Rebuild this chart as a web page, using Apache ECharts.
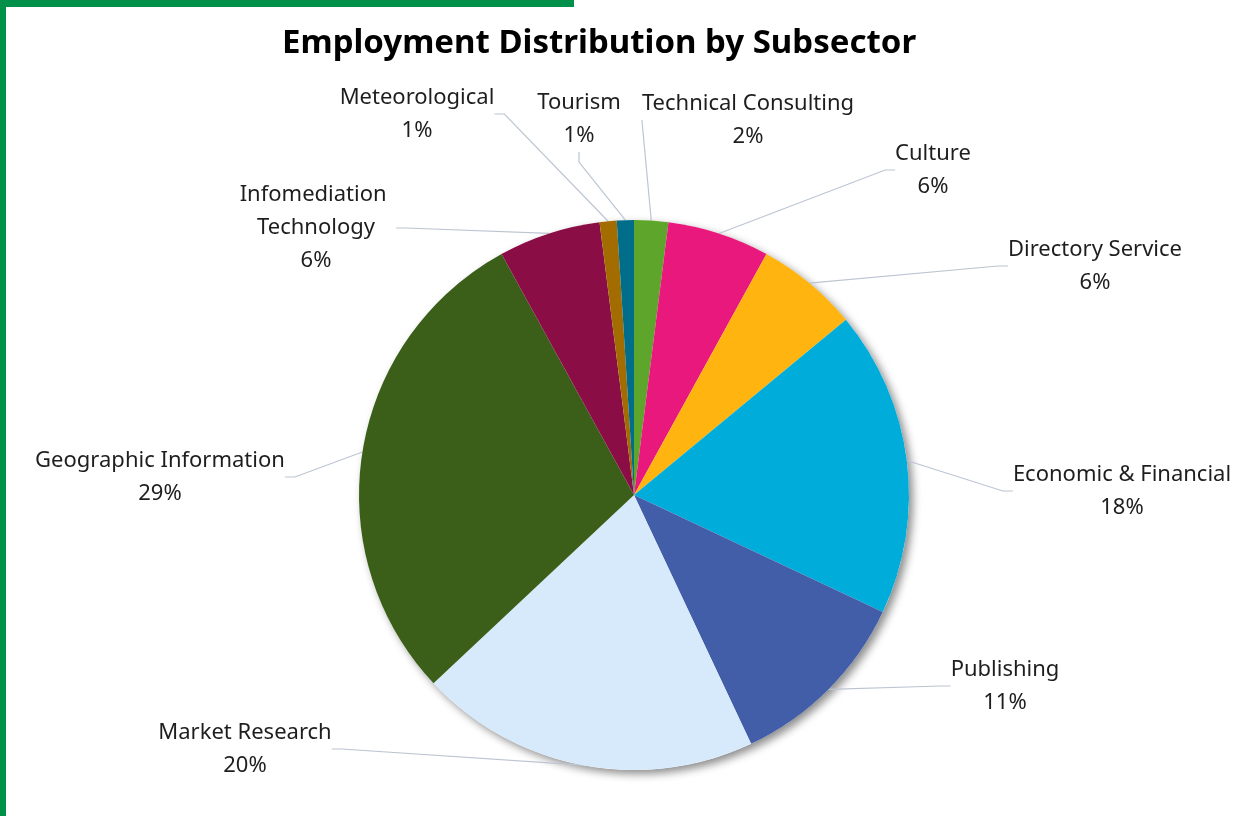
<!DOCTYPE html>
<html>
<head>
<meta charset="utf-8">
<style>
  html, body { margin: 0; padding: 0; background: #ffffff; }
  #chart { width: 1249px; height: 816px; }
</style>
<script src="https://cdn.jsdelivr.net/npm/echarts@6/dist/echarts.min.js"></script>
</head>
<body>
<div id="chart"></div>
<script>
// Employment share by subsector (percent), clockwise from 12 o'clock
const subsectors = [
  'Technical Consulting',
  'Culture',
  'Directory Service',
  'Economic & Financial',
  'Publishing',
  'Market Research',
  'Geographic Information',
  'Infomediation Technology',
  'Meteorological',
  'Tourism'
];
const shares = [2, 6, 6, 18, 11, 20, 29, 6, 1, 1];

const sliceColors = [
  '#5ea52b', '#e9187c', '#ffb40f', '#00acd9', '#425ea8',
  '#d6eafb', '#3b5f18', '#8b0d46', '#a36c00', '#006e8b'
];

// Where each label block sits (centre of the text block, in px)
const labelSpots = [
  [748, 120], [933, 170], [1095, 266], [1122, 491], [1005, 686],
  [245, 749], [160, 477], [316, 228], [417, 114], [579, 119]
];

const PIE_CENTER = [634, 495];
const PIE_RADIUS = 275;
const total = shares.reduce((a, b) => a + b, 0);

const chart = echarts.init(document.getElementById('chart'), null, { renderer: 'canvas' });

chart.setOption({
  backgroundColor: '#ffffff',
  animation: false,
  title: {
    text: 'Employment Distribution by Subsector',
    left: 277,
    top: 22,
    textStyle: {
      fontFamily: 'Noto Sans',
      fontWeight: 'bold',
      fontSize: 33,
      color: '#000000'
    }
  },
  graphic: [
    { type: 'rect', shape: { x: 0, y: 0, width: 574, height: 7 }, style: { fill: '#00904a' } },
    { type: 'rect', shape: { x: 0, y: 0, width: 6, height: 816 }, style: { fill: '#00904a' } }
  ],
  series: [
    {
      // soft drop shadow underneath the whole pie
      type: 'pie',
      silent: true,
      center: PIE_CENTER,
      radius: PIE_RADIUS,
      z: 1,
      label: { show: false },
      labelLine: { show: false },
      itemStyle: {
        color: '#ffffff',
        shadowBlur: 8,
        shadowOffsetX: 4,
        shadowOffsetY: 4,
        shadowColor: 'rgba(0,0,0,0.45)'
      },
      data: [{ name: 'total', value: total }]
    },
    {
      type: 'pie',
      z: 2,
      center: PIE_CENTER,
      radius: PIE_RADIUS,
      startAngle: 90,
      clockwise: true,
      avoidLabelOverlap: false,
      percentPrecision: 0,
      itemStyle: { borderWidth: 0 },
      label: {
        show: true,
        position: 'outside',
        formatter: '{b}\n{d}%',
        fontFamily: 'Noto Sans',
        fontSize: 22,
        lineHeight: 33,
        color: '#1e1e1e',
        align: 'center'
      },
      labelLine: {
        show: true,
        length: 20,
        length2: 10,
        lineStyle: { color: '#bcc5d2', width: 1.2 }
      },
      labelLayout: function (params) {
        const spot = labelSpots[params.dataIndex];
        return {
          x: spot[0],
          y: spot[1],
          align: 'center',
          verticalAlign: 'middle'
        };
      },
      emphasis: { disabled: true },
      data: subsectors.map((name, i) => ({
        name: name,
        value: shares[i],
        itemStyle: { color: sliceColors[i] },
        label: name === 'Infomediation Technology'
          ? { width: 160, overflow: 'break' }
          : {}
      }))
    }
  ]
});
</script>
</body>
</html>
